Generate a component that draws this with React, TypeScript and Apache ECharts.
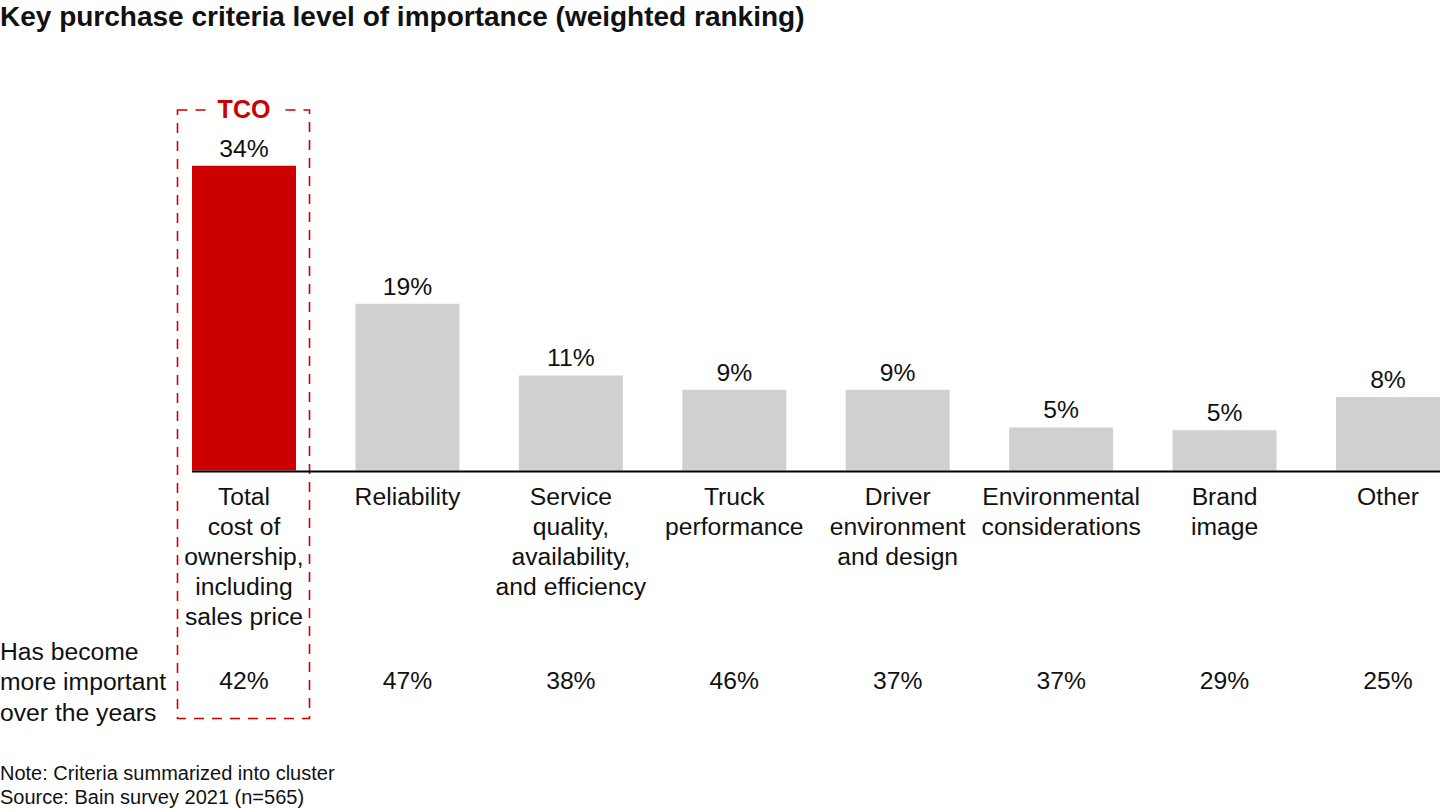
import React, { useEffect, useRef } from "react";
import * as echarts from "echarts";

const categories = [
  "Total\ncost of\nownership,\nincluding\nsales price",
  "Reliability",
  "Service\nquality,\navailability,\nand efficiency",
  "Truck\nperformance",
  "Driver\nenvironment\nand design",
  "Environmental\nconsiderations",
  "Brand\nimage",
  "Other",
];
const importance = [34, 18.6, 10.6, 9.0, 9.0, 4.8, 4.5, 8.2];
const moreImportant = ["42%", "47%", "38%", "46%", "37%", "37%", "29%", "25%"];

const FONT = "Liberation Sans, Arial, Helvetica, sans-serif";
const RED = "#cc0000";
const GRAY = "#d0d0d0";
const TEXT = "#111111";

export default function App() {
  const ref = useRef<HTMLDivElement>(null);
  useEffect(() => {
    if (!ref.current) return;
    const chart = echarts.init(ref.current, undefined, { renderer: "svg" });
    chart.setOption({
      animation: false,
      textStyle: { fontFamily: FONT },
      grid: {
        left: 162.3,
        width: 1307.4,
        top: 165.7,
        bottom: 339.5,
        containLabel: false,
        outerBoundsMode: "none",
      },
      xAxis: [
        {
          type: "category",
          data: categories,
          position: "bottom",
          axisLine: { show: false },
          axisTick: { show: false },
          axisLabel: {
            interval: 0,
            fontSize: 24.7,
            lineHeight: 30,
            color: TEXT,
            margin: 11,
            fontFamily: FONT,
          },
        },
        {
          type: "category",
          data: moreImportant,
          position: "bottom",
          offset: 185,
          axisLine: { show: false },
          axisTick: { show: false },
          axisLabel: {
            interval: 0,
            fontSize: 24.7,
            lineHeight: 30,
            color: TEXT,
            margin: 10,
            fontFamily: FONT,
          },
        },
      ],
      yAxis: { type: "value", min: 0, max: 34, show: false, splitLine: { show: false } },
      series: [
        {
          type: "bar",
          xAxisIndex: 0,
          data: importance.map((v, i) => ({
            value: v,
            itemStyle: { color: i === 0 ? RED : GRAY },
          })),
          barWidth: 104,
          label: {
            show: true,
            position: "top",
            distance: 5,
            fontSize: 24.7,
            color: TEXT,
            fontFamily: FONT,
            formatter: (p: any) => Math.round(p.value) + "%",
          },
        },
      ],
      graphic: [
        {
          type: "text",
          x: 0,
          y: 2,
          style: {
            text: "Key purchase criteria level of importance (weighted ranking)",
            font: `bold 28px ${FONT}`,
            fill: TEXT,
            verticalAlign: "top",
          },
        },
        {
          type: "line",
          shape: { x1: 192, y1: 471.5, x2: 1440, y2: 471.5 },
          style: { stroke: "#000", lineWidth: 2 },
          z: 10,
        },
        {
          type: "rect",
          shape: { x: 177.5, y: 110, width: 132, height: 608.5 },
          style: { fill: "none", stroke: RED, lineWidth: 1.6, lineDash: [10, 8] },
          z: 5,
        },
        {
          type: "rect",
          shape: { x: 210, y: 96, width: 68, height: 26 },
          style: { fill: "#fff" },
          z: 6,
        },
        {
          type: "text",
          x: 244,
          y: 109,
          style: {
            text: "TCO",
            font: `bold 25px ${FONT}`,
            fill: RED,
            align: "center",
            verticalAlign: "middle",
          },
          z: 7,
        },
        {
          type: "text",
          x: 0,
          y: 636,
          style: {
            text: "Has become\nmore important\nover the years",
            font: `24.7px ${FONT}`,
            lineHeight: 30.5,
            fill: TEXT,
            verticalAlign: "top",
          },
        },
        {
          type: "text",
          x: 0,
          y: 761,
          style: {
            text: "Note: Criteria summarized into cluster\nSource: Bain survey 2021 (n=565)",
            font: `20px ${FONT}`,
            lineHeight: 24,
            fill: TEXT,
            verticalAlign: "top",
          },
        },
      ],
    });
    return () => chart.dispose();
  }, []);
  return (
    <div
      ref={ref}
      style={{ position: "fixed", left: 0, top: 0, width: 1440, height: 810, background: "#fff" }}
    />
  );
}
